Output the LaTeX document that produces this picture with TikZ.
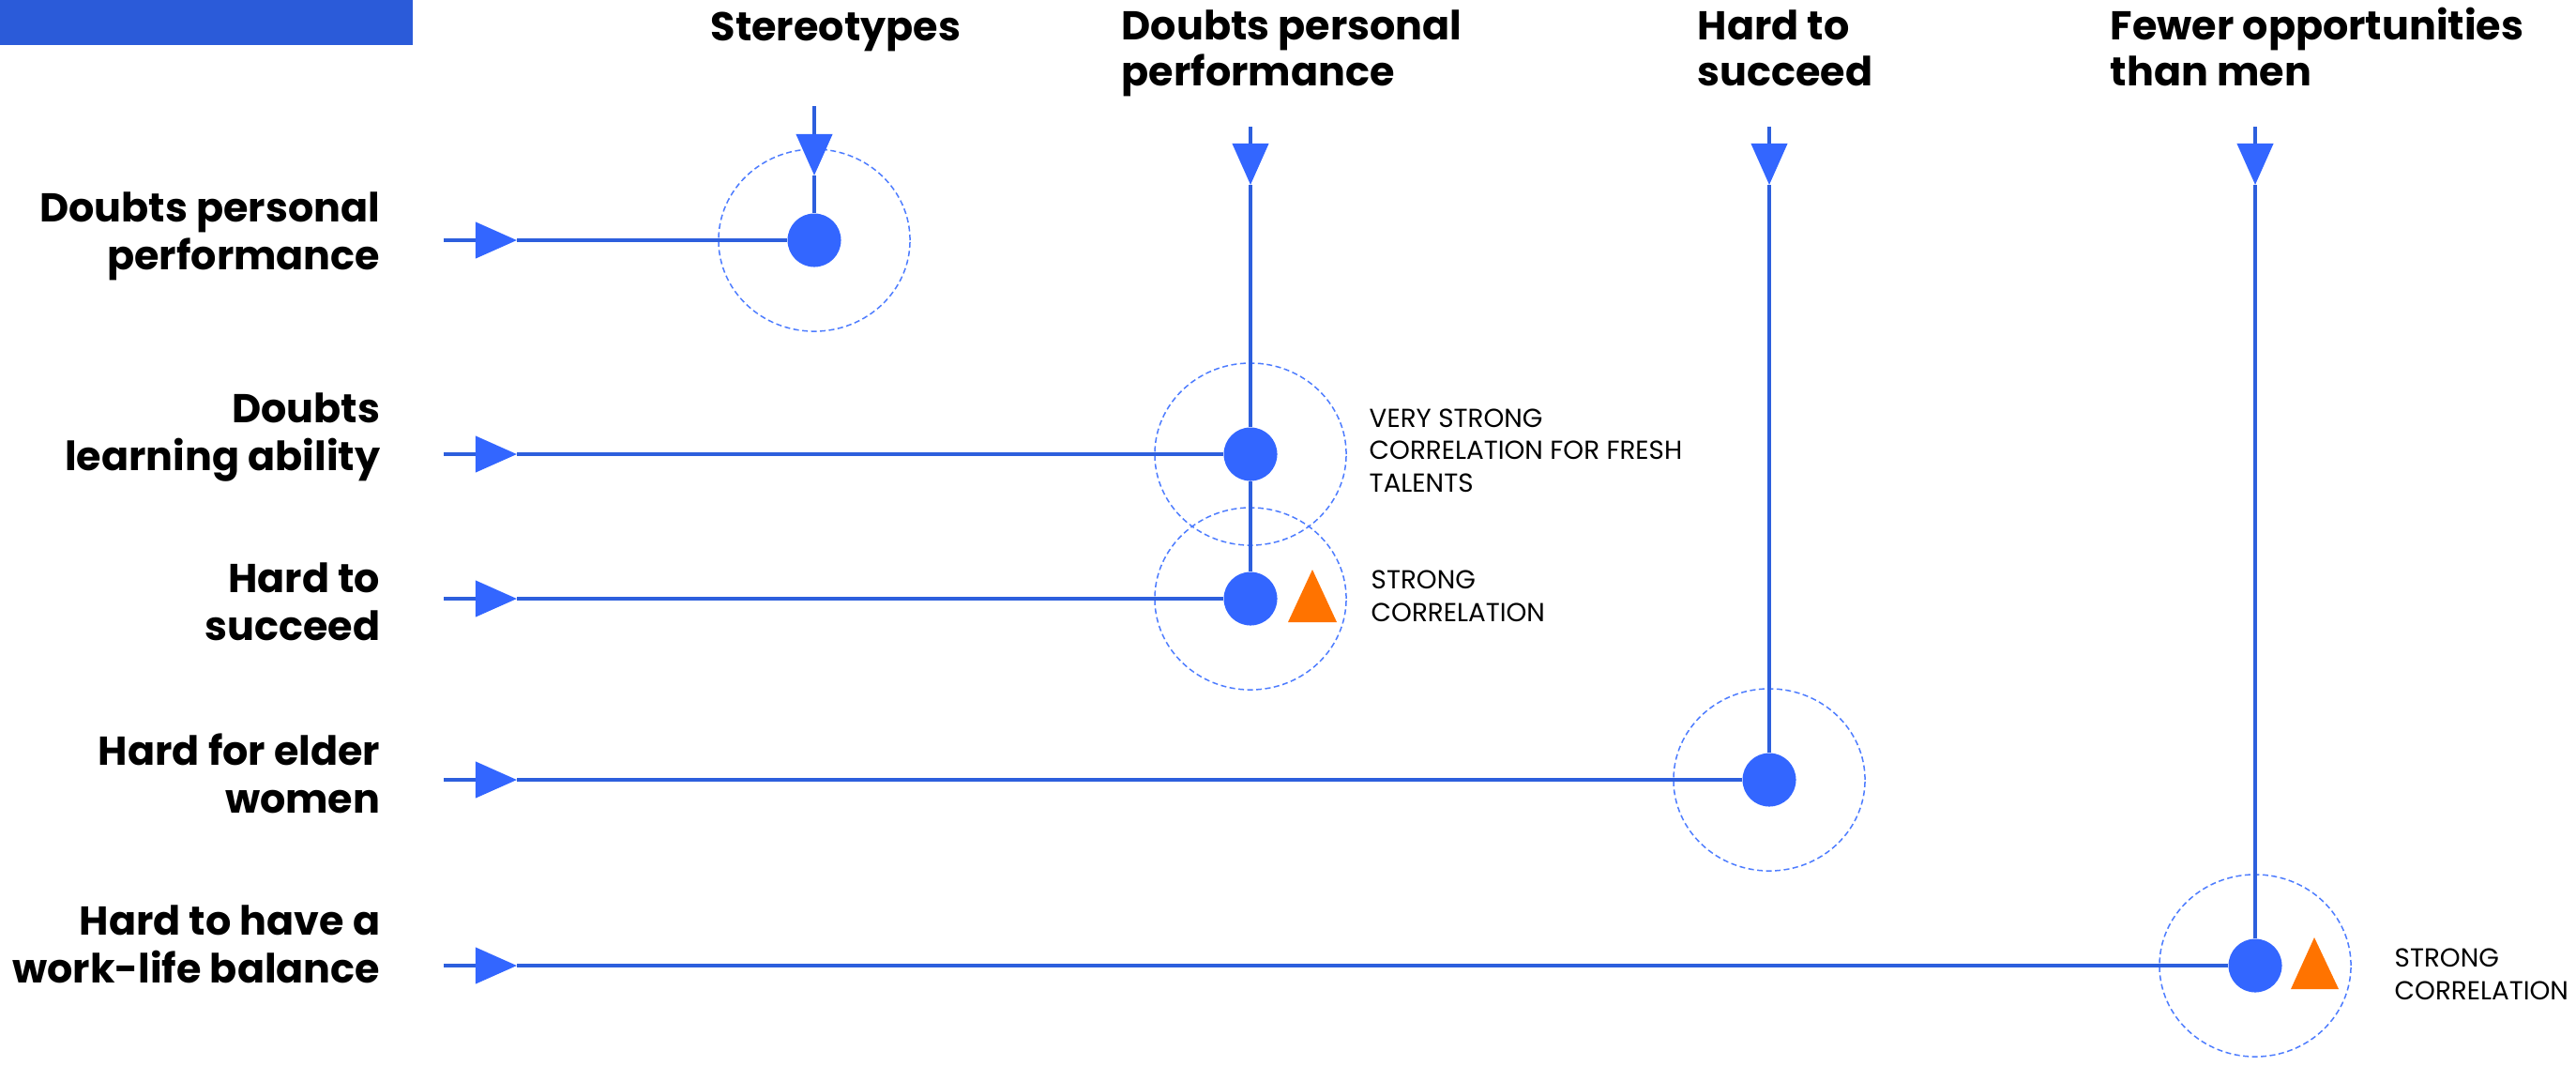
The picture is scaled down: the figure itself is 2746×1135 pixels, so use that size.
\documentclass[tikz,border=0pt]{standalone}
\usepackage{fontspec}
\setmainfont{Poppins}
\usetikzlibrary{arrows.meta}
\definecolor{barblue}{HTML}{2B5BD9}
\definecolor{lineblue}{HTML}{2D5FDD}
\definecolor{dotblue}{HTML}{3366FF}
\definecolor{ringblue}{HTML}{4D7CFF}
\definecolor{warnorange}{HTML}{FF7300}
\begin{document}
\begin{tikzpicture}[x=0.01cm,y=-0.01cm,
  % multi-line nodes: the base anchor sits on the last line
  rowlabel/.style={anchor=base east, align=right, inner sep=0pt,
    font=\bfseries\fontsize{12.2}{14.4}\selectfont},
  collabel/.style={anchor=base west, align=left, inner sep=0pt,
    font=\bfseries\fontsize{12.2}{13.8}\selectfont},
  note/.style={anchor=base west, align=left, inner sep=0pt,
    font=\fontsize{7.9}{9.7}\selectfont},
  dot/.style={circle, fill=dotblue, inner sep=0pt, minimum size=0.57cm},
  ring/.style={draw=ringblue, line width=0.015cm, dash pattern=on 0.06cm off 0.035cm},
  conn/.style={draw=lineblue, line width=0.04cm},
  intip/.style={-{Triangle[length=0.44cm, width=0.38cm, color=dotblue]}},
  warn/.style={fill=warnorange},
]
% page frame
\useasboundingbox (0,0) rectangle (2746,1135);
\fill[barblue] (0,0) rectangle (440,48);

% column headings
\node[collabel] (h1) at (757,43) {Stereotypes};
\node[collabel] (h2) at (1195,91) {Doubts personal\\performance};
\node[collabel] (h3) at (1809,91) {Hard to\\succeed};
\node[collabel] (h4) at (2249,91) {Fewer opportunities\\than men};

% row headings
\node[rowlabel] (l1) at (406,287) {Doubts personal\\performance};
\node[rowlabel] (l2) at (406,501) {Doubts\\learning ability};
\node[rowlabel] (l3) at (406,682) {Hard to\\succeed};
\node[rowlabel] (l4) at (406,866) {Hard for elder\\women};
\node[rowlabel] (l5) at (406,1047) {Hard to have a\\work-life balance};

% crossing points
\node[dot] (d1) at (868,256) {};
\node[dot] (d2) at (1333,484) {};
\node[dot] (d3) at (1333,638) {};
\node[dot] (d4) at (1886,831) {};
\node[dot] (d5) at (2404,1029) {};

\foreach \d in {d1,d2,d3,d4,d5}
  \draw[ring] (\d.center) ellipse [x radius=1.02cm, y radius=0.97cm];

% row arrows
\coordinate (s1) at (473,256);  \coordinate (t1) at (551,256);
\coordinate (s2) at (473,484);  \coordinate (t2) at (551,484);
\coordinate (s3) at (473,638);  \coordinate (t3) at (551,638);
\coordinate (s4) at (473,831);  \coordinate (t4) at (551,831);
\coordinate (s5) at (473,1029); \coordinate (t5) at (551,1029);
\foreach \i in {1,...,5} {
  \draw[conn, intip] (s\i) -- (t\i);
  \draw[conn] (t\i) -- (d\i);
}

% column arrows
\coordinate (u1) at (868,113);  \coordinate (v1) at (868,187);
\coordinate (u2) at (1333,135); \coordinate (v2) at (1333,197);
\coordinate (u3) at (1886,135); \coordinate (v3) at (1886,197);
\coordinate (u4) at (2404,135); \coordinate (v4) at (2404,197);
\draw[conn, intip] (u1) -- (v1);  \draw[conn] (v1) -- (d1);
\draw[conn, intip] (u2) -- (v2);  \draw[conn] (v2) -- (d2);
\draw[conn] (d2) -- (d3);
\draw[conn, intip] (u3) -- (v3);  \draw[conn] (v3) -- (d4);
\draw[conn, intip] (u4) -- (v4);  \draw[conn] (v4) -- (d5);

% strong-correlation markers
\fill[warn, shift={(d3.center)}] (40,25) -- (66,-31) -- (92,25) -- cycle;
\fill[warn, shift={(d5.center)}] (38,25) -- (63,-30) -- (89,25) -- cycle;

% notes
\node[note] (n1) at (1459,524) {VERY STRONG\\CORRELATION FOR FRESH\\TALENTS};
\node[note] (n2) at (1461,662) {STRONG\\CORRELATION};
\node[note] (n3) at (2552,1065) {STRONG\\CORRELATION};
\end{tikzpicture}
\end{document}
